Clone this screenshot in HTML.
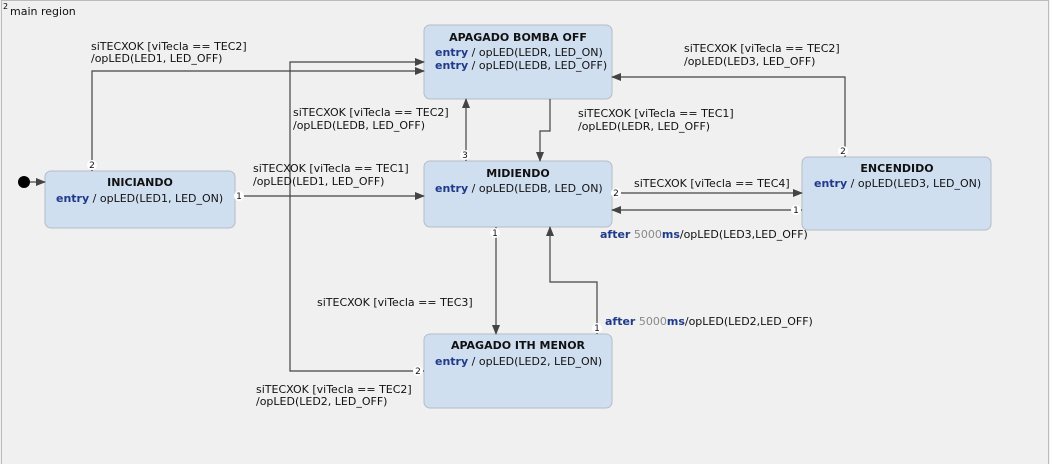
<!DOCTYPE html>
<html><head><meta charset="utf-8"><style>
html,body{margin:0;padding:0;background:#f0f0f0;}
svg{display:block;font-family:"DejaVu Sans","Liberation Sans",sans-serif;}
.t{font-size:11px;fill:#111;}
.b{font-weight:bold;}
.k{font-weight:bold;fill:#1f3a8a;}
.g{fill:#888;}
.st{fill:#d0dff0;stroke:#b4bcc6;stroke-width:1;}
.ln{fill:none;stroke:#444;stroke-width:1.2;}
.m{font-size:9px;fill:#111;}
</style></head><body>
<svg width="1050" height="464" viewBox="0 0 1050 464" xmlns="http://www.w3.org/2000/svg">
<defs>
<marker id="a" markerWidth="10" markerHeight="8" refX="9" refY="4" orient="auto" markerUnits="userSpaceOnUse">
<path d="M0,0 L10,4 L0,8 z" fill="#444"/></marker>
</defs>
<rect x="1.5" y="0.5" width="1047" height="470" fill="#f0f0f0" stroke="#bbb"/>
<text x="3" y="9" style="font-size:8px">2</text>
<text x="10" y="15" class="t">main region</text>

<rect class="st" x="45" y="171" width="190" height="57" rx="6"/>
<text x="140" y="186" class="t b" text-anchor="middle">INICIANDO</text>
<text x="56" y="202" class="t"><tspan class="k">entry</tspan> / opLED(LED1, LED_ON)</text>

<rect class="st" x="424" y="25" width="188" height="74" rx="6"/>
<text x="518" y="41" class="t b" text-anchor="middle">APAGADO BOMBA OFF</text>
<text x="435" y="56" class="t"><tspan class="k">entry</tspan> / opLED(LEDR, LED_ON)</text>
<text x="435" y="69" class="t"><tspan class="k">entry</tspan> / opLED(LEDB, LED_OFF)</text>

<rect class="st" x="424" y="161" width="188" height="66" rx="6"/>
<text x="518" y="177" class="t b" text-anchor="middle">MIDIENDO</text>
<text x="435" y="192" class="t"><tspan class="k">entry</tspan> / opLED(LEDB, LED_ON)</text>

<rect class="st" x="802" y="157" width="189" height="73" rx="6"/>
<text x="897" y="172" class="t b" text-anchor="middle">ENCENDIDO</text>
<text x="814" y="187" class="t"><tspan class="k">entry</tspan> / opLED(LED3, LED_ON)</text>

<rect class="st" x="424" y="334" width="188" height="74" rx="6"/>
<text x="518" y="349" class="t b" text-anchor="middle">APAGADO ITH MENOR</text>
<text x="435" y="365" class="t"><tspan class="k">entry</tspan> / opLED(LED2, LED_ON)</text>

<circle cx="24" cy="182" r="6" fill="#000"/>
<line class="ln" x1="30" y1="182" x2="45" y2="182" marker-end="url(#a)"/>

<polyline class="ln" points="92,171 92,71 424,71" marker-end="url(#a)"/>
<text x="91" y="50" class="t">siTECXOK [viTecla == TEC2]</text>
<text x="91" y="62" class="t">/opLED(LED1, LED_OFF)</text>

<polyline class="ln" points="424,371 290,371 290,62 424,62" marker-end="url(#a)"/>
<text x="256" y="393" class="t">siTECXOK [viTecla == TEC2]</text>
<text x="256" y="405" class="t">/opLED(LED2, LED_OFF)</text>

<line class="ln" x1="235" y1="196" x2="424" y2="196" marker-end="url(#a)"/>
<text x="253" y="172" class="t">siTECXOK [viTecla == TEC1]</text>
<text x="253" y="185" class="t">/opLED(LED1, LED_OFF)</text>

<line class="ln" x1="466" y1="161" x2="466" y2="99" marker-end="url(#a)"/>
<text x="293" y="116" class="t">siTECXOK [viTecla == TEC2]</text>
<text x="293" y="129" class="t">/opLED(LEDB, LED_OFF)</text>

<polyline class="ln" points="550,99 550,131 540,131 540,161" marker-end="url(#a)"/>
<text x="578" y="117" class="t">siTECXOK [viTecla == TEC1]</text>
<text x="578" y="130" class="t">/opLED(LEDR, LED_OFF)</text>

<polyline class="ln" points="845,157 845,77 612,77" marker-end="url(#a)"/>
<text x="684" y="52" class="t">siTECXOK [viTecla == TEC2]</text>
<text x="684" y="65" class="t">/opLED(LED3, LED_OFF)</text>

<line class="ln" x1="612" y1="193" x2="802" y2="193" marker-end="url(#a)"/>
<text x="634" y="187" class="t">siTECXOK [viTecla == TEC4]</text>

<line class="ln" x1="802" y1="210" x2="612" y2="210" marker-end="url(#a)"/>
<text x="600" y="238" class="t"><tspan class="k">after</tspan> <tspan class="g">5000</tspan><tspan class="k">ms</tspan>/opLED(LED3,LED_OFF)</text>

<line class="ln" x1="496" y1="227" x2="496" y2="334" marker-end="url(#a)"/>
<text x="317" y="306" class="t">siTECXOK [viTecla == TEC3]</text>

<polyline class="ln" points="597,334 597,282 550,282 550,227" marker-end="url(#a)"/>
<text x="605" y="325" class="t"><tspan class="k">after</tspan> <tspan class="g">5000</tspan><tspan class="k">ms</tspan>/opLED(LED2,LED_OFF)</text>

<g>
<circle cx="92" cy="165" r="5" fill="#fff"/><text x="92" y="168" class="m" text-anchor="middle">2</text>
<circle cx="239" cy="196" r="5" fill="#fff"/><text x="239" y="199" class="m" text-anchor="middle">1</text>
<circle cx="418" cy="371" r="5" fill="#fff"/><text x="418" y="374" class="m" text-anchor="middle">2</text>
<circle cx="465" cy="155" r="5" fill="#fff"/><text x="465" y="158" class="m" text-anchor="middle">3</text>
<circle cx="843" cy="151" r="5" fill="#fff"/><text x="843" y="154" class="m" text-anchor="middle">2</text>
<circle cx="616" cy="193" r="5" fill="#fff"/><text x="616" y="196" class="m" text-anchor="middle">2</text>
<circle cx="796" cy="210" r="5" fill="#fff"/><text x="796" y="213" class="m" text-anchor="middle">1</text>
<circle cx="495" cy="233" r="5" fill="#fff"/><text x="495" y="236" class="m" text-anchor="middle">1</text>
<circle cx="597" cy="328" r="5" fill="#fff"/><text x="597" y="331" class="m" text-anchor="middle">1</text>
</g>
</svg>
</body></html>
